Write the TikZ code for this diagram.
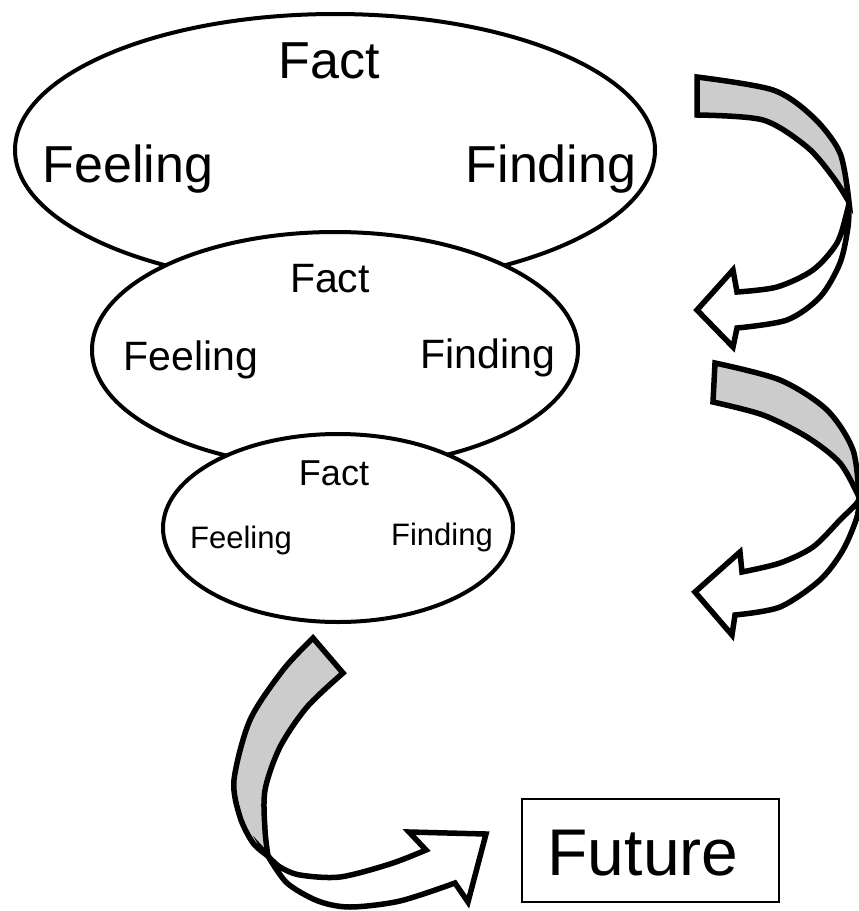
\documentclass[tikz,border=0pt]{standalone}
\usepackage{fontspec}
\setmainfont{Liberation Sans}
\definecolor{bandgray}{RGB}{204,204,204}
\begin{document}
\begin{tikzpicture}[x=1pt,y=-1pt,
  ell/.style={draw, line width=4pt, fill=white},
  band/.style={draw, line width=5.5pt, line join=miter},
  lbl/.style={anchor=base, inner sep=0pt},
  fA/.style={font=\fontsize{52}{60}\selectfont},
  fB/.style={font=\fontsize{41}{48}\selectfont},
  fC/.style={font=\fontsize{36}{42}\selectfont},
  fD/.style={font=\fontsize{31}{36}\selectfont},
  fE/.style={font=\fontsize{66}{76}\selectfont}]
\useasboundingbox (0,0) rectangle (859,911);
% ellipses
\draw[ell] (335,150) ellipse [x radius=320pt, y radius=136pt];
\draw[ell] (335,350) ellipse [x radius=243pt, y radius=118pt];
\draw[ell] (338,528) ellipse [x radius=175pt, y radius=94pt];
% labels
\node[lbl,fA] (fact1) at (329,78) {Fact};
\node[lbl,fA] (feel1) at (128,182) {Feeling};
\node[lbl,fA] (find1) at (551,182) {Finding};
\node[lbl,fB] (fact2) at (330,292) {Fact};
\node[lbl,fB] (feel2) at (191,370) {Feeling};
\node[lbl,fB] (find2) at (488,368) {Finding};
\node[lbl,fC] (fact3) at (334,485) {Fact};
\node[lbl,fD] (feel3) at (241,548) {Feeling};
\node[lbl,fD] (find3) at (442,545) {Finding};
% future
\node[draw, line width=2pt, minimum width=257pt, minimum height=103pt, inner sep=0pt] (futbox) at (650.5,850.5) {};
\node[lbl,fE] (fut) at (643,875) {Future};
% arrow 1
\filldraw[band, fill=bandgray] plot[smooth] coordinates {(697,77) (773,90) (813,117) (840,153) (849,202)}
  -- plot[smooth] coordinates {(849,202) (833,177) (807,147) (763,120) (697,115)} -- cycle;
\filldraw[band, fill=white] plot[smooth] coordinates {(849,202) (848,227) (840,263) (820,297) (787,320) (737,328)}
  -- (733,347) -- (697,310) -- (733,270) -- (737,292)
  -- plot[smooth] coordinates {(737,292) (777,287) (813,270) (837,243) (847,212) (849,202)} -- cycle;
% arrow 2
\filldraw[band, fill=bandgray] plot[smooth] coordinates {(715,363) (780,380) (827,410) (853,450) (859,497)}
  -- plot[smooth] coordinates {(859,497) (840,463) (807,437) (763,415) (713,402)} -- cycle;
\filldraw[band, fill=white] plot[smooth] coordinates {(859,497) (857,517) (843,550) (820,580) (780,607) (735,615)}
  -- (732,635) -- (695,592) -- (740,552) -- (742,572)
  -- plot[smooth] coordinates {(742,572) (780,563) (813,547) (840,520) (857,503) (859,497)} -- cycle;
% arrow 3
\filldraw[band, fill=bandgray] plot[smooth] coordinates {(313,638) (283,670) (250,720) (234,780) (240,817) (253,843) (268,856)}
  -- plot[smooth] coordinates {(268,856) (265,830) (265,790) (280,747) (307,707) (343,673)} -- cycle;
\filldraw[band, fill=white] plot[smooth] coordinates {(268,856) (287,883) (318,901) (350,907) (400,901) (455,883)}
  -- (468,902) -- (486,834) -- (409,832) -- (426,850)
  -- plot[smooth] coordinates {(426,850) (390,864) (340,877) (300,875) (280,867) (268,856)} -- cycle;
\end{tikzpicture}
\end{document}
